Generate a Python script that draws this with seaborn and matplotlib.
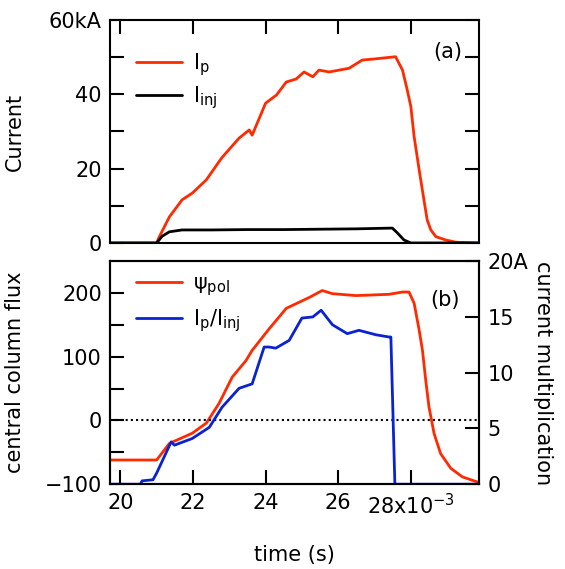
import numpy as np
import seaborn as sns
import matplotlib.pyplot as plt
from matplotlib.ticker import FixedLocator

# time axis in ms (tick labels carry the x10^-3)
t_ip = [19.72, 20.5, 21.0, 21.07, 21.35, 21.7, 21.98, 22.37, 22.8, 23.27, 23.55, 23.63,
        24.0, 24.3, 24.57, 24.84, 25.06, 25.3, 25.47, 25.75, 26.3, 26.66, 27.0, 27.48,
        27.58, 27.77, 27.9, 28.0, 28.09, 28.23, 28.36, 28.45, 28.55, 28.69, 28.96, 29.24,
        29.88]
ip = [0, 0, 0, 1.6, 7, 11.6, 13.4, 17, 23, 28.2, 30.4, 29, 37.6, 39.8, 43.3, 44.1, 46,
      44.7, 46.5, 46, 47, 49.2, 49.5, 50, 50.1, 46.5, 41.2, 36.7, 28.6, 19.6, 11.6, 6.2,
      3.5, 1.7, 0.8, 0.2, 0]

t_inj = [19.72, 20.5, 21.0, 21.15, 21.35, 21.7, 22.5, 23.5, 24.5, 25.5, 26.5, 27.49,
         27.63, 27.81, 28.0, 29.88]
iinj = [0, 0, 0, 1.8, 3.0, 3.5, 3.5, 3.6, 3.6, 3.7, 3.8, 4.0, 2.7, 0.8, 0, 0]

t_psi = [19.72, 21.0, 21.35, 21.98, 22.37, 22.72, 23.08, 23.46, 23.63, 24.1, 24.57,
         25.2, 25.56, 25.84, 26.49, 27.4, 27.77, 27.95, 28.09, 28.23, 28.32, 28.41,
         28.5, 28.64, 28.82, 29.1, 29.42, 29.83, 29.88]
psi = [-62, -62, -36, -20, -4, 27, 68, 94, 110, 144, 176, 193, 204, 199, 196, 198, 201.6,
       201.6, 184, 141.5, 110, 63, 21, -20.5, -52, -75, -88.5, -96.4, -96.6]

t_mult = [19.72, 20.55, 20.6, 20.9, 21.0, 21.4, 21.49, 21.98, 22.45, 22.8, 23.27,
          23.63, 23.96, 24.1, 24.28, 24.65, 25.0, 25.3, 25.53, 25.84, 26.25, 26.57,
          27.04, 27.4, 27.45, 27.56, 29.88]
mult = [0, 0, 0.3, 0.4, 1.0, 3.8, 3.5, 4.1, 5.1, 6.9, 8.6, 9.0, 12.3, 12.3, 12.2, 12.9,
        14.9, 15.0, 15.6, 14.3, 13.5, 13.8, 13.4, 13.2, 13.2, 0, 0]

x_ticks = [20, 22, 24, 26, 28]
x_labels = ['20', '22', '24', '26', '28x10$^{-3}$']

red = '#ff2a00'
blue = '#0a22d0'

sns.set_style('ticks')
plt.rcParams['font.family'] = ['DejaVu Sans']
plt.rcParams['mathtext.default'] = 'regular'
plt.rcParams['font.size'] = 15
plt.rcParams['axes.linewidth'] = 1.5
for key in ['text.color', 'axes.labelcolor', 'axes.edgecolor', 'xtick.color', 'ytick.color']:
    plt.rcParams[key] = 'black'

fig = plt.figure(figsize=(5.65, 5.69), dpi=100)
ax1 = fig.add_axes([0.195, 0.573, 0.653, 0.392])
ax2 = fig.add_axes([0.195, 0.149, 0.653, 0.392])
ax2r = ax2.twinx()

tick_kw = dict(direction='in', length=10, width=1.5, labelsize=15, pad=6,
               color='black', labelcolor='black')

# (a) currents
sns.lineplot(x=t_ip, y=ip, ax=ax1, color=red, lw=2, label='I$_p$', sort=False, estimator=None)
sns.lineplot(x=t_inj, y=iinj, ax=ax1, color='black', lw=2, label='I$_{inj}$', sort=False, estimator=None)
ax1.set_xlim(19.72, 29.88)
ax1.set_ylim(0, 60)
ax1.yaxis.set_major_locator(FixedLocator([0, 20, 40, 60]))
ax1.set_yticklabels(['0', '20', '40', '60kA'])
ax1.yaxis.set_minor_locator(FixedLocator([10, 30, 50]))
ax1.xaxis.set_major_locator(FixedLocator(x_ticks))
ax1.tick_params(axis='both', which='both', top=True, bottom=False, right=True,
                labelbottom=False, **tick_kw)
ax1.set_ylabel('Current', fontsize=15)
ax1.yaxis.set_label_coords(-0.23, 0.5)
ax1.text(0.916, 0.856, '(a)', transform=ax1.transAxes, ha='center', va='center', fontsize=15)
ax1.legend(loc='upper left', bbox_to_anchor=(0.02, 0.945), frameon=False, fontsize=15,
           handlelength=2.2, handletextpad=0.5, labelspacing=0.3)

# (b) flux and current multiplication
sns.lineplot(x=t_psi, y=psi, ax=ax2, color=red, lw=2, sort=False, estimator=None)
ax2.axhline(0, color='black', lw=1.5, ls=(0, (1, 1.5)))
sns.lineplot(x=t_mult, y=mult, ax=ax2r, color=blue, lw=2, sort=False, estimator=None)
ax2.set_xlim(19.72, 29.88)
ax2.set_ylim(-100, 250)
ax2r.set_ylim(0, 20)
ax2.yaxis.set_major_locator(FixedLocator([-100, 0, 100, 200]))
ax2.yaxis.set_minor_locator(FixedLocator([-50, 50, 150]))
ax2.xaxis.set_major_locator(FixedLocator(x_ticks))
ax2.set_xticklabels(x_labels)
ax2.tick_params(axis='both', which='both', top=False, right=False, **tick_kw)
ax2r.yaxis.set_major_locator(FixedLocator([0, 5, 10, 15, 20]))
ax2r.set_yticklabels(['0', '5', '10', '15', '20A'])
ax2r.tick_params(axis='y', **tick_kw)
ax2.set_ylabel('central column flux', fontsize=15)
ax2.yaxis.set_label_coords(-0.23, 0.5)
ax2r.set_ylabel('current multiplication', fontsize=15, rotation=270)
ax2r.yaxis.set_label_coords(1.2, 0.5)
ax2.set_xlabel('time (s)', fontsize=15)
ax2.xaxis.set_label_coords(0.5, -0.274)
ax2.text(0.908, 0.825, '(b)', transform=ax2.transAxes, ha='center', va='center', fontsize=15)

h1, = ax2.get_lines()[:1]
h2, = ax2r.get_lines()[:1]
ax2r.legend([h1, h2], ['ψ$_{pol}$', 'I$_p$/I$_{inj}$'], loc='upper left',
            bbox_to_anchor=(0.02, 1.03), frameon=False, fontsize=15,
            handlelength=2.2, handletextpad=0.5, labelspacing=0.45)

fig.savefig('out.png', dpi=100)
